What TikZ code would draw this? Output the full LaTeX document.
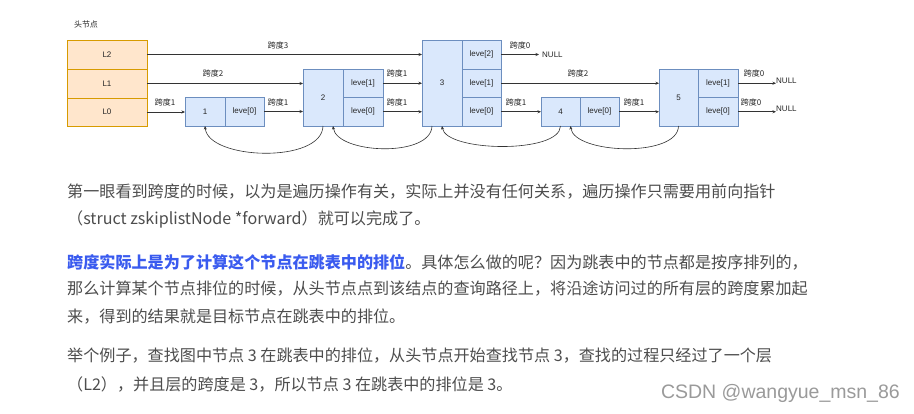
\documentclass[tikz,border=0pt]{standalone}
\usepackage{fontspec}
\setmainfont{Liberation Sans}
\newfontfamily\cjk{Noto Sans CJK SC}
\newfontfamily\wmfont{Liberation Sans}
\usetikzlibrary{arrows.meta}
\definecolor{hfill}{HTML}{FFE6CC}
\definecolor{hdraw}{HTML}{D79B00}
\definecolor{nfill}{HTML}{DAE8FC}
\definecolor{ndraw}{HTML}{6C8EBF}
\definecolor{txt}{HTML}{4D4D4D}
\definecolor{lnk}{HTML}{3A5BEF}
\definecolor{wm}{HTML}{9A9A9A}
\definecolor{edge}{HTML}{333333}
\newcommand\skcell[7]{\node[#7, minimum width={#4-#2}, minimum height={#5-#3}] (#1) at ({(#2+#4)/2},{(#3+#5)/2}) {#6};}
\tikzset{
  hcell/.style={draw=hdraw, fill=hfill, line width=0.7pt, inner sep=0, outer sep=0, font=\fontsize{8}{9}\selectfont, text=black!85},
  ncell/.style={draw=ndraw, fill=nfill, line width=0.7pt, inner sep=0, outer sep=0, font=\fontsize{8}{9}\selectfont, text=black!85},
  arr/.style={draw=edge, line width=0.6pt, -{Stealth[length=3.5pt,width=3pt]}},
  lbl/.style={inner sep=0, font=\cjk\fontsize{8}{9}\selectfont, text=black!85},
  nulltxt/.style={inner sep=0, font=\fontsize{8}{9}\selectfont, text=black!85},
  para/.style={inner sep=0, anchor=west, font=\cjk\fontsize{16.1}{18}\selectfont, text=txt},
}
\begin{document}
\begin{tikzpicture}[x=1pt,y=-1pt]
\useasboundingbox[fill=white] (0,0) rectangle (914,413);
% title
\node[lbl] (title) at (86,24) {头节点};
% head node
\skcell{L2}{67}{40}{147}{69}{L2}{hcell}
\skcell{L1}{67}{69}{147}{98}{L1}{hcell}
\skcell{L0}{67}{98}{147}{126}{L0}{hcell}
% node 1
\skcell{n1a}{185}{97}{225}{126}{1}{ncell}
\skcell{n1b}{225}{97}{264}{126}{leve[0]}{ncell}
% node 2
\skcell{n2a}{303}{69}{343}{126}{2}{ncell}
\skcell{n2b1}{343}{69}{383}{97.5}{leve[1]}{ncell}
\skcell{n2b0}{343}{97.5}{383}{126}{leve[0]}{ncell}
% node 3
\skcell{n3a}{422}{40}{462}{126}{3}{ncell}
\skcell{n3b2}{462}{40}{501}{69}{leve[2]}{ncell}
\skcell{n3b1}{462}{69}{501}{97.5}{leve[1]}{ncell}
\skcell{n3b0}{462}{97.5}{501}{126}{leve[0]}{ncell}
% node 4
\skcell{n4a}{541}{97.5}{580}{126}{4}{ncell}
\skcell{n4b}{580}{97.5}{619}{126}{leve[0]}{ncell}
% node 5
\skcell{n5a}{659}{69}{698}{126}{5}{ncell}
\skcell{n5b1}{698}{69}{738}{97.5}{leve[1]}{ncell}
\skcell{n5b0}{698}{97.5}{738}{126}{leve[0]}{ncell}
% NULL targets
\node[nulltxt, anchor=west] (nullA) at (542,55) {NULL};
\node[nulltxt, anchor=west] (nullB) at (776,81) {NULL};
\node[nulltxt, anchor=west] (nullC) at (776,109) {NULL};
% forward arrows
\draw[arr] (L2.east) -- (L2.east -| n3a.west);
\draw[arr] (L1.east) -- (L1.east -| n2a.west);
\draw[arr] (L0.east) -- (L0.east -| n1a.west);
\draw[arr] (n1b.east) -- (n1b.east -| n2a.west);
\draw[arr] (n2b1.east) -- (n2b1.east -| n3a.west);
\draw[arr] (n2b0.east) -- (n2b0.east -| n3a.west);
\draw[arr] (n3b2.east) -- ([xshift=-3pt]nullA.west |- n3b2.east);
\draw[arr] (n3b1.east) -- (n3b1.east -| n5a.west);
\draw[arr] (n3b0.east) -- (n3b0.east -| n4a.west);
\draw[arr] (n4b.east) -- (n4b.east -| n5a.west);
\draw[arr] (n5b1.east) -- (n5b1.east -| nullB.west);
\draw[arr] (n5b0.east) -- (n5b0.east -| nullC.west);
% span labels
\node[lbl] (s1) at (278,45) {跨度3};
\node[lbl] (s2) at (213,73) {跨度2};
\node[lbl] (s3) at (165,102) {跨度1};
\node[lbl] (s4) at (278,102) {跨度1};
\node[lbl] (s5) at (397,73) {跨度1};
\node[lbl] (s6) at (397,102) {跨度1};
\node[lbl] (s7) at (520,45) {跨度0};
\node[lbl] (s8) at (578,73) {跨度2};
\node[lbl] (s9) at (516,102) {跨度1};
\node[lbl] (s10) at (634,102) {跨度1};
\node[lbl] (s11) at (754,73) {跨度0};
\node[lbl] (s12) at (751,102) {跨度0};
% backward arrows
\draw[arr] (n2a.south) .. controls (322,164) and (208,160) .. (n1a.south);
\draw[arr] ([xshift=-10pt]n3a.south) .. controls (431,158) and (337,154) .. ([xshift=10pt]n2a.south);
\draw[arr] (n4a.south) .. controls (560,154) and (446,152) .. (n3a.south);
\draw[arr] (n5a.south) .. controls (678,158) and (574,154) .. ([xshift=10pt]n4a.south);
% paragraphs
\node[para] (p1) at (67,192) {第一眼看到跨度的时候，以为是遍历操作有关，实际上并没有任何关系，遍历操作只需要用前向指针};
\node[para] (p2) at (67,219) {（struct zskiplistNode *forward）就可以完成了。};
\node[para] (p3) at (67,262) {{\color{lnk}\bfseries 跨度实际上是为了计算这个节点在跳表中的排位}。具体怎么做的呢？因为跳表中的节点都是按序排列的，};
\node[para] (p4) at (67,289) {那么计算某个节点排位的时候，从头节点点到该结点的查询路径上，将沿途访问过的所有层的跨度累加起};
\node[para] (p5) at (67,317) {来，得到的结果就是目标节点在跳表中的排位。};
\node[para] (p6) at (67,356) {举个例子，查找图中节点 3 在跳表中的排位，从头节点开始查找节点 3，查找的过程只经过了一个层};
\node[para] (p7) at (67,384) {（L2），并且层的跨度是 3，所以节点 3 在跳表中的排位是 3。};
% watermark
\node[inner sep=0, anchor=east, font=\wmfont\fontsize{19.5}{20}\selectfont, text=wm] (wmk) at (900,393) {CSDN @wangyue\_msn\_86};
\end{tikzpicture}
\end{document}
